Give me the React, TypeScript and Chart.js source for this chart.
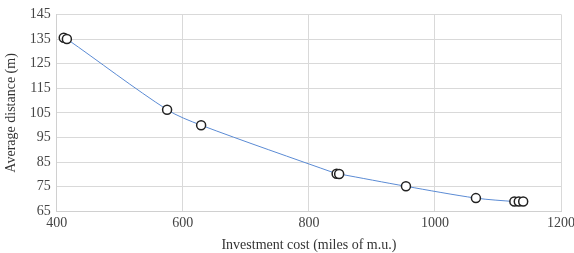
import React, { useEffect, useRef } from "react";
import { Chart, registerables } from "chart.js";

Chart.register(...registerables);

const costs = [411, 416, 575, 629, 844, 848, 954, 1065, 1126, 1133, 1140];
const distances = [135.5, 135, 106.3, 100, 80.3, 80.2, 75.2, 70.4, 69, 69, 69];
const xTitle = "Investment cost (miles of m.u.)";
const yTitle = "Average distance (m)";

export default function App() {
  const ref = useRef<HTMLCanvasElement>(null);
  useEffect(() => {
    document.body.style.margin = "0";
    const ctx = ref.current!;
    const font = { family: "'Liberation Serif', 'Times New Roman', serif", size: 14 };
    const chart = new Chart(ctx, {
      type: "scatter",
      data: {
        datasets: [
          {
            data: costs.map((c, i) => ({ x: c, y: distances[i] })),
            showLine: true,
            tension: 0.3,
            borderColor: "#5b8bd4",
            borderWidth: 1,
            pointRadius: 4.5,
            pointBorderWidth: 1.5,
            pointBackgroundColor: "#ffffff",
            pointBorderColor: "#222222",
          },
        ],
      },
      options: {
        animation: false,
        responsive: false,
        plugins: { legend: { display: false }, tooltip: { enabled: false } },
        layout: { padding: { left: 3, right: 0, top: 8, bottom: -1 } },
        scales: {
          x: {
            type: "linear",
            min: 400,
            max: 1200,
            ticks: { stepSize: 200, color: "#444", font, padding: 4, callback: (v: any) => String(v) },
            grid: { color: "#d9d9d9", drawTicks: false },
            border: { color: "#d0d0d0" },
            title: { display: true, text: xTitle, color: "#333", font, padding: { top: 1, bottom: 0 } },
          },
          y: {
            min: 65,
            max: 145,
            ticks: { stepSize: 10, color: "#444", font, padding: 6, callback: (v: any) => String(v) },
            grid: { color: "#d9d9d9", drawTicks: false },
            border: { color: "#d0d0d0" },
            title: { display: true, text: yTitle, color: "#333", font, padding: { top: 0, bottom: 4 } },
          },
        },
      },
    });
    return () => chart.destroy();
  }, []);
  return (
    <div style={{ width: 574, height: 253, overflow: "hidden" }}>
      <canvas ref={ref} width={579} height={253} style={{ display: "block" }} />
    </div>
  );
}
